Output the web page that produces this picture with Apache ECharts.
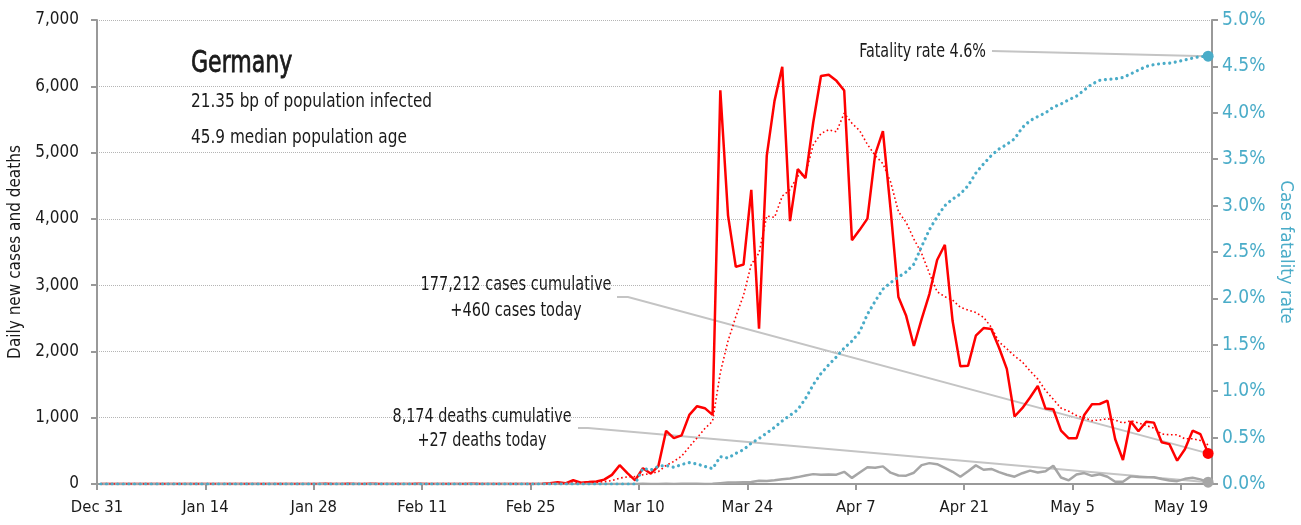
<!DOCTYPE html>
<html>
<head>
<meta charset="utf-8">
<title>Germany</title>
<script src="https://cdn.jsdelivr.net/npm/echarts@6/dist/echarts.min.js"></script>
<style>
  html, body { margin: 0; padding: 0; background: #fff; }
  #chart { width: 1301px; height: 525px; }
</style>
</head>
<body>
<div id="chart"></div>
<script>
// day index 0 = Dec 31, each value sits in the middle of its day
const tickLabels = ['Dec 31', 'Jan 14', 'Jan 28', 'Feb 11', 'Feb 25', 'Mar 10', 'Mar 24', 'Apr 7', 'Apr 21', 'May 5', 'May 19']

const dailyCases = [
  0, 0, 0, 0, 0, 0, 0, 0, 0, 0,
  0, 0, 0, 0, 0, 0, 0, 0, 0, 0,
  0, 0, 0, 0, 0, 0, 0, 0, 1, 3,
  0, 1, 3, 0, 0, 2, 1, 0, 1, 0,
  0, 2, 0, 0, 0, 0, 0, 0, 2, 0,
  0, 0, 0, 0, 0, 0, 0, 2, 10, 26,
  10, 57, 20, 29, 39, 66, 138, 284, 163, 55,
  237, 157, 271, 802, 693, 733, 1043, 1174, 1144, 1042,
  5940, 4049, 3276, 3311, 4438, 2342, 4954, 5780, 6294, 3965,
  4751, 4615, 5453, 6156, 6174, 6082, 5936, 3677, 3834, 4003,
  4974, 5323, 4133, 2821, 2537, 2082, 2486, 2866, 3380, 3609,
  2458, 1775, 1785, 2237, 2352, 2337, 2055, 1737, 1018, 1144,
  1304, 1478, 1138, 1128, 806, 689, 689, 1041, 1202, 1207,
  1257, 676, 362, 945, 797, 940, 926, 631, 601, 352,
  525, 805, 752, 462
]

// 7 day average (dotted red)
const casesAvg = [
  0, 0, 0, 0, 0, 0, 0, 0, 0, 0,
  0, 0, 0, 0, 0, 0, 0, 0, 0, 0,
  0, 0, 0, 0, 0, 0, 0, 0, 0, 0,
  0, 0, 0, 0, 0, 0, 0, 0, 0, 0,
  0, 0, 0, 0, 0, 0, 0, 0, 0, 0,
  0, 0, 0, 0, 0, 0, 0, 0.3, 1.7, 5.4,
  6.9, 15, 18, 22, 27, 35, 51, 90, 106, 111,
  140, 157, 186, 281, 340, 421, 562, 696, 837, 947,
  1681, 2161, 2524, 2848, 3314, 3485, 4044, 4021, 4342, 4441,
  4646, 4672, 5116, 5288, 5344, 5314, 5595, 5442, 5330, 5123,
  4954, 4833, 4554, 4109, 3946, 3696, 3479, 3178, 2901, 2826,
  2774, 2665, 2623, 2587, 2514, 2365, 2143, 2040, 1932, 1840,
  1707, 1582, 1411, 1278, 1145, 1098, 1033, 996, 956, 966,
  984, 966, 919, 956, 921, 883, 843, 754, 743, 742,
  682, 683, 656, 590
]

const dailyDeaths = [
  0, 0, 0, 0, 0, 0, 0, 0, 0, 0,
  0, 0, 0, 0, 0, 0, 0, 0, 0, 0,
  0, 0, 0, 0, 0, 0, 0, 0, 0, 0,
  0, 0, 0, 0, 0, 0, 0, 0, 0, 0,
  0, 0, 0, 0, 0, 0, 0, 0, 0, 0,
  0, 0, 0, 0, 0, 0, 0, 0, 0, 0,
  0, 0, 0, 0, 0, 0, 0, 0, 0, 0,
  2, 0, 1, 2, 1, 2, 3, 2, 1, 3,
  13, 22, 24, 28, 31, 49, 47, 55, 73, 84,
  104, 128, 149, 140, 145, 141, 184, 92, 173, 254,
  246, 266, 171, 129, 126, 170, 285, 315, 299, 242,
  184, 110, 194, 281, 215, 227, 179, 140, 110, 163,
  202, 173, 193, 276, 98, 55, 143, 165, 123, 148,
  110, 35, 35, 115, 105, 103, 103, 75, 52, 43,
  78, 93, 70, 27
]

// case fatality rate, percent
const fatalityRate = [
  0, 0, 0, 0, 0, 0, 0, 0, 0, 0,
  0, 0, 0, 0, 0, 0, 0, 0, 0, 0,
  0, 0, 0, 0, 0, 0, 0, 0, 0, 0,
  0, 0, 0, 0, 0, 0, 0, 0, 0, 0,
  0, 0, 0, 0, 0, 0, 0, 0, 0, 0,
  0, 0, 0, 0, 0, 0, 0, 0, 0, 0,
  0, 0, 0, 0, 0, 0, 0, 0, 0, 0,
  0.17, 0.15, 0.19, 0.20, 0.18, 0.21, 0.23, 0.215, 0.19, 0.165,
  0.295, 0.28, 0.33, 0.37, 0.44, 0.49, 0.55, 0.61, 0.68, 0.74,
  0.80, 0.92, 1.07, 1.19, 1.285, 1.37, 1.465, 1.54, 1.64, 1.83,
  1.97, 2.10, 2.17, 2.23, 2.285, 2.37, 2.56, 2.74, 2.88, 3.00,
  3.07, 3.125, 3.215, 3.35, 3.45, 3.54, 3.61, 3.66, 3.72, 3.84,
  3.915, 3.96, 4.00, 4.06, 4.095, 4.14, 4.18, 4.245, 4.31, 4.35,
  4.36, 4.365, 4.38, 4.42, 4.46, 4.50, 4.52, 4.53, 4.535, 4.55,
  4.57, 4.59, 4.605, 4.61
]

const country = 'Germany'
const infoLines = ['21.35 bp of population infected', '45.9 median population age']
const casesNote = '177,212 cases cumulative\n+460 cases today'
const deathsNote = '8,174 deaths cumulative\n+27 deaths today'
const rateNote = 'Fatality rate 4.6%'

const FONT = '"DejaVu Sans Condensed", "Liberation Sans Narrow", sans-serif'
const RED = '#ff0000'
const BLUE = '#4aacc8'
const GREY = '#a6a6a6'
const INK = '#1a1a1a'

const last = dailyCases.length - 1
// pairs [day + 0.5, value], with a dot on the last one
const toPoints = (arr, dot) => arr.map((v, i) => {
  if (i === last && dot) {
    return { value: [i + 0.5, v], symbol: 'circle', symbolSize: 11, itemStyle: { color: dot } }
  }
  return [i + 0.5, v]
})

const chart = echarts.init(document.getElementById('chart'))
chart.setOption({
  animation: false,
  textStyle: { fontFamily: FONT },
  grid: { left: 97, right: 89, top: 20, bottom: 41, outerBoundsMode: 'none', containLabel: false },
  xAxis: {
    type: 'value',
    min: 0,
    max: 144,
    interval: 14,
    splitLine: { show: false },
    axisLine: { lineStyle: { color: '#999', width: 2 } },
    axisTick: { length: 6, lineStyle: { color: '#999', width: 2 } },
    axisLabel: {
      color: INK, fontSize: 16.5, margin: 15, fontFamily: FONT,
      showMaxLabel: false,
      formatter: v => tickLabels[v / 14] || ''
    }
  },
  yAxis: [
    {
      type: 'value',
      min: 0, max: 7000, interval: 1000,
      name: 'Daily new cases and deaths',
      nameLocation: 'middle',
      nameGap: 71,
      nameTextStyle: { color: INK, fontSize: 17, fontFamily: FONT },
      axisLine: { show: true, lineStyle: { color: '#999', width: 2 } },
      axisTick: { show: true, length: 6, lineStyle: { color: '#999', width: 2 } },
      axisLabel: {
        color: INK, fontSize: 17, margin: 18, fontFamily: FONT,
        formatter: v => v.toLocaleString('en-US')
      },
      splitLine: { lineStyle: { color: '#b5b5b5', type: 'dotted', width: 1 } }
    },
    {
      type: 'value',
      min: 0, max: 5, interval: 0.5,
      position: 'right',
      name: 'Case fatality rate',
      nameLocation: 'middle',
      nameRotate: -90,
      nameGap: 64,
      nameTextStyle: { color: BLUE, fontSize: 18.5, fontFamily: FONT },
      axisLine: { show: true, lineStyle: { color: '#999', width: 2 } },
      axisTick: { show: true, length: 6, lineStyle: { color: '#999', width: 2 } },
      axisLabel: {
        color: BLUE, fontSize: 19, margin: 10, fontFamily: FONT,
        formatter: v => v.toFixed(1) + '%'
      },
      splitLine: { show: false }
    }
  ],
  series: [
    {
      name: 'cases',
      type: 'line',
      data: toPoints(dailyCases, RED),
      symbol: 'none',
      showAllSymbol: true,
      lineStyle: { color: RED, width: 2.5 },
      itemStyle: { color: RED },
      z: 3
    },
    {
      name: 'deaths',
      type: 'line',
      data: toPoints(dailyDeaths, GREY),
      symbol: 'none',
      showAllSymbol: true,
      lineStyle: { color: GREY, width: 2.5 },
      itemStyle: { color: GREY },
      z: 3
    },
    {
      name: 'cases 7 day average',
      type: 'line',
      data: toPoints(casesAvg),
      symbol: 'none',
      lineStyle: { color: RED, width: 1.6, type: [1.6, 2.6] },
      z: 4
    },
    {
      name: 'fatality rate',
      type: 'line',
      yAxisIndex: 1,
      data: toPoints(fatalityRate, BLUE),
      symbol: 'none',
      showAllSymbol: true,
      lineStyle: { color: BLUE, width: 3.2, type: [0.01, 5.6], cap: 'round' },
      itemStyle: { color: BLUE },
      z: 5
    }
  ]
})

// leader lines end on the last point of each series
const casesEnd = chart.convertToPixel({ seriesIndex: 0 }, [last + 0.5, dailyCases[last]])
const deathsEnd = chart.convertToPixel({ seriesIndex: 1 }, [last + 0.5, dailyDeaths[last]])
const rateEnd = chart.convertToPixel({ seriesIndex: 3 }, [last + 0.5, fatalityRate[last]])

const leader = pts => ({
  type: 'polyline',
  silent: true,
  z: 1,
  shape: { points: pts },
  style: { stroke: '#c4c4c4', lineWidth: 2, fill: null }
})
// condensed look: squeeze the text horizontally around its anchor
const label = (text, x, y, size, squeeze, align, lineHeight, stroke) => ({
  type: 'text',
  silent: true,
  x, y,
  scaleX: squeeze,
  style: {
    text,
    fill: INK,
    font: size + 'px ' + FONT,
    align,
    verticalAlign: 'middle',
    lineHeight,
    stroke: stroke ? INK : null,
    lineWidth: stroke || 0
  }
})

chart.setOption({
  graphic: [
    leader([[992, 51], rateEnd]),
    leader([[617, 297], [628, 297], casesEnd]),
    leader([[578, 428], [588, 428], deathsEnd]),
    label(country, 191, 64, 31, 0.79, 'left', null, 0.8),
    label(infoLines[0], 191, 102, 20, 0.85, 'left'),
    label(infoLines[1], 191, 138, 20, 0.85, 'left'),
    label(rateNote, 986, 52, 19, 0.84, 'right'),
    label(casesNote, 516, 298, 19, 0.85, 'center', 26),
    label(deathsNote, 482, 429, 19, 0.84, 'center', 24)
  ]
})
</script>
</body>
</html>
